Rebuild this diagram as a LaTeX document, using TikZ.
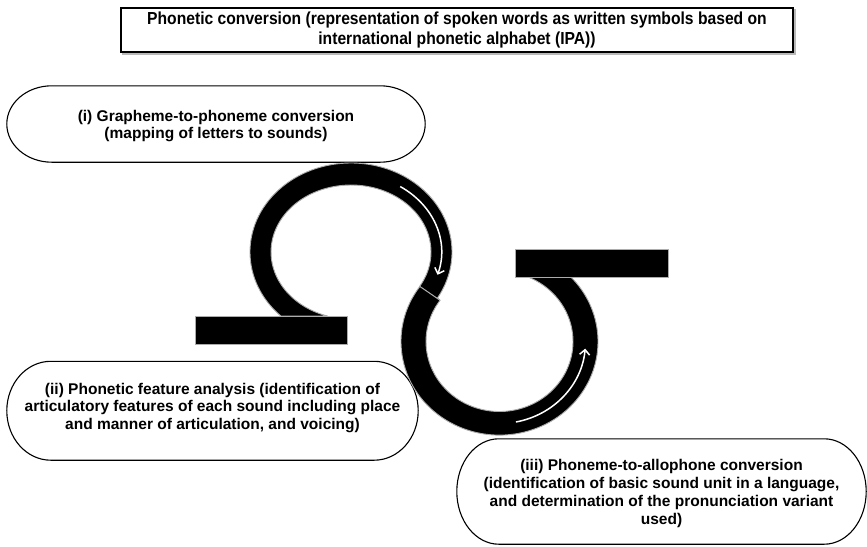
\documentclass[tikz,border=0pt]{standalone}
\usepackage{fontspec}
\setmainfont{Liberation Sans}
\newfontfamily\titlefont[FakeStretch=0.9]{Liberation Sans}
\usetikzlibrary{arrows.meta,calc}

% outline of a pill-shaped box around node #1, with end arcs of horizontal radius #2 (pt)
\newcommand\pilloutline[2]{%
  \draw[pillline] let \p1=(#1.north west), \p2=(#1.south east), \n1={(\y1-\y2)/2} in
    (\x1+#2pt,\y1) -- (\x2-#2pt,\y1)
    arc[start angle=90,end angle=-90,x radius=#2pt,y radius=\n1]
    -- (\x1+#2pt,\y2)
    arc[start angle=270,end angle=90,x radius=#2pt,y radius=\n1] -- cycle;}

\begin{document}
\begin{tikzpicture}[x=1pt,y=1pt,
  boxtext/.style={font=\bfseries\fontsize{15.5}{17.8}\selectfont, align=center, inner sep=0pt},
  boxarea/.style={inner sep=0pt},
  titletext/.style={font=\titlefont\bfseries\fontsize{17.4}{19.3}\selectfont, align=center},
  pillline/.style={draw=black, line width=1.1pt},
  ribbon/.style={fill=black, draw=gray!65, line width=0.9pt, line join=round},
  barshape/.style={fill=black, draw=gray!65, line width=1pt},
  flow/.style={draw=white, line width=1.5pt, -{Straight Barb[length=5pt,width=10pt]}}
]
\useasboundingbox (0,0) rectangle (867,-546);
\fill[white] (0,0) rectangle (867,-546);

% title box with a faint shadow on the lower and right edges
\node[titletext, draw, line width=1.2pt, minimum width=672, minimum height=44] (title) at (457,-30)
  {Phonetic conversion (representation of spoken words as written symbols based on\\international phonetic alphabet (IPA))};
\draw[gray!55, line width=1.3pt] ([xshift=1.3pt,yshift=-1.3pt]title.south west) -- ([xshift=1.3pt,yshift=-1.3pt]title.south east) -- ([xshift=1.3pt,yshift=-1.3pt]title.north east);

% the three stage boxes and their texts
\node[boxarea, minimum width=418, minimum height=76] (s1) at (216,-124) {};
\node[boxarea, minimum width=411, minimum height=98.5] (s2) at (212.5,-410.75) {};
\node[boxarea, minimum width=409, minimum height=105] (s3) at (661.5,-491.5) {};
\pilloutline{s1}{45}
\pilloutline{s2}{44}
\pilloutline{s3}{42}

\node[boxtext] (t1) at (216,-126)
  {(i) Grapheme-to-phoneme conversion\\(mapping of letters to sounds)};
\node[boxtext] (t2) at (212.5,-408)
  {(ii) Phonetic feature analysis (identification of\\articulatory features of each sound including place\\and manner of articulation, and voicing)};
\node[boxtext] (t3) at (661.5,-493.5)
  {(iii) Phoneme-to-allophone conversion\\(identification of basic sound unit in a language,\\and determination of the pronunciation variant\\used)};

% centres of the two loops of the S-shaped band
\coordinate (U) at (351,-252);
\coordinate (L) at (499.5,-341.5);

% upper loop
\draw[ribbon] ($(U)+(226:101 and 89)$)
  arc[start angle=226,end angle=-31,x radius=101,y radius=89]
  -- ($(L)+(144:73.5 and 70)$) -- ($(L)+(144:98.5 and 93.6)$)
  -- ($(U)+(-31:80 and 67)$)
  arc[start angle=-31,end angle=252.8,x radius=80,y radius=67] -- cycle;

% lower loop
\draw[ribbon] ($(L)+(144:98.5 and 93.6)$)
  arc[start angle=144,end angle=404.3,x radius=98.5,y radius=93.6]
  -- ($(L)+(428.9:73.5 and 70)$)
  arc[start angle=428.9,end angle=144,x radius=73.5,y radius=70] -- cycle;

% end bars
\draw[barshape] (195,-316) rectangle (347,-344);
\draw[barshape] (515.7,-249) rectangle (668,-277.7);

% direction arrows along the band
\draw[flow] ($(U)+(57:90.5 and 78)$) arc[start angle=57,end angle=-17,x radius=90.5,y radius=78];
\draw[flow] ($(L)+(-79:86 and 82)$) arc[start angle=-79,end angle=-5,x radius=86,y radius=82];
\end{tikzpicture}
\end{document}
